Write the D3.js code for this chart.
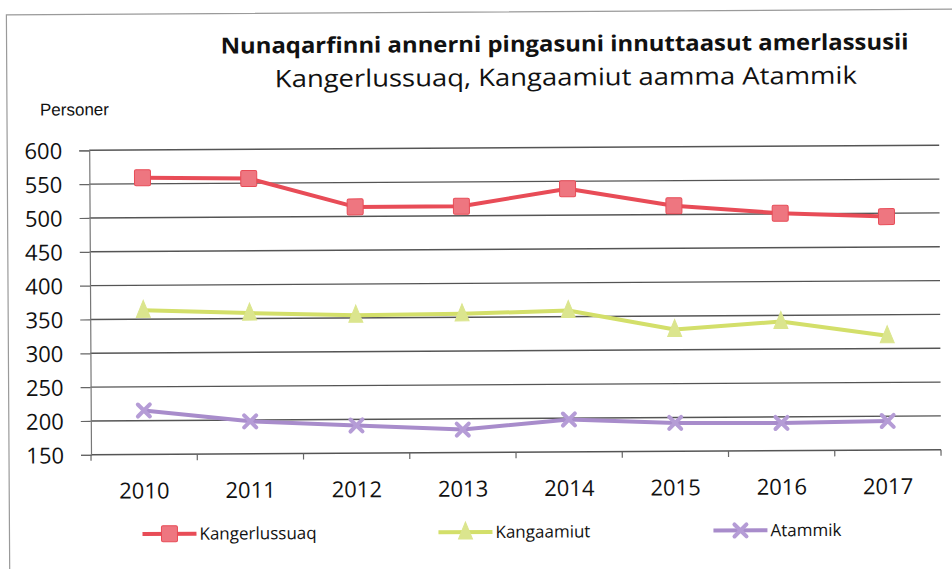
<!DOCTYPE html>
<html>
<head>
<meta charset="utf-8">
<script src="https://cdn.jsdelivr.net/npm/d3@7"></script>
<style>
  body { margin: 0; background: #fff; }
  svg { display: block; }
</style>
</head>
<body>
<svg id="chart" width="952" height="569"></svg>
<script>
// values
const years = ['2010', '2011', '2012', '2013', '2014', '2015', '2016', '2017']
const kangerlussuaq = [559, 557, 514, 514, 539, 513, 501, 495]
const kangaamiut = [363, 358, 354, 355, 359, 330, 341, 319]
const atammik = [215, 198, 191, 184, 198, 192, 191, 193]
const yTicks = [150, 200, 250, 300, 350, 400, 450, 500, 550, 600]

const seriesNames = ['Kangerlussuaq', 'Kangaamiut', 'Atammik']
const seriesValues = [kangerlussuaq, kangaamiut, atammik]
const lineColors = ['#e84c57', '#d3df6a', '#a88ccb']
const markerColors = ['#ee7680', '#dbe58e', '#b59cd6']
const markerShapes = ['square', 'triangle', 'cross']

const svg = d3.select('#chart')

// the scan is tilted a little, so everything sits in one rotated group
const g = svg.append('g')
  .attr('transform', 'rotate(-0.34, 476, 284)')

// frame of the chart
g.append('path')
  .attr('d', 'M8,600 L8,12 L960,12')
  .attr('fill', 'none')
  .attr('stroke', '#9a9a9a')
  .attr('stroke-width', 1.2)

g.append('text')
  .attr('x', 566).attr('y', 52)
  .attr('text-anchor', 'middle')
  .attr('font-family', 'Open Sans, sans-serif')
  .attr('font-weight', 'bold')
  .attr('font-size', 22)
  .attr('textLength', 688)
  .attr('lengthAdjust', 'spacingAndGlyphs')
  .attr('fill', '#111')
  .text('Nunaqarfinni annerni pingasuni innuttaasut amerlassusii')

g.append('text')
  .attr('x', 567).attr('y', 86)
  .attr('text-anchor', 'middle')
  .attr('font-family', 'Open Sans, sans-serif')
  .attr('font-size', 24)
  .attr('textLength', 582)
  .attr('lengthAdjust', 'spacingAndGlyphs')
  .attr('fill', '#111')
  .text('Kangerlussuaq, Kangaamiut aamma Atammik')

g.append('text')
  .attr('x', 41).attr('y', 113)
  .attr('font-family', 'Liberation Sans, Arial, sans-serif')
  .attr('font-size', 17)
  .attr('fill', '#111')
  .text('Personer')

const x = d3.scaleBand()
  .domain(years)
  .range([90, 940])

const y = d3.scaleLinear()
  .domain([150, 600])
  .range([452.5, 148])

const cx = d => x(d) + x.bandwidth() / 2

// gridlines
g.append('g')
  .selectAll('line')
  .data(yTicks)
  .join('line')
  .attr('x1', 90).attr('x2', 940)
  .attr('y1', d => y(d)).attr('y2', d => y(d))
  .attr('stroke', '#555')
  .attr('stroke-width', 1.4)

// y axis
const yAxis = g.append('g')
  .attr('transform', 'translate(90,0)')
  .call(d3.axisLeft(y).tickValues(yTicks).tickSize(10).tickPadding(6))
yAxis.select('.domain').attr('stroke', '#777').attr('stroke-width', 1.2)
yAxis.selectAll('.tick line').attr('stroke', '#666').attr('stroke-width', 1.2)
yAxis.selectAll('.tick text')
  .attr('font-family', 'Open Sans, sans-serif')
  .attr('font-size', 22)
  .attr('fill', '#111')
  .attr('dy', '0.36em')
  .attr('x', -27)

// x axis ticks at the category boundaries
const xAxis = g.append('g')
  .attr('transform', `translate(0,${y(150)})`)
xAxis.selectAll('line')
  .data(years.concat(['end']))
  .join('line')
  .attr('x1', (d, i) => i < years.length ? x(d) : x(years[years.length - 1]) + x.bandwidth())
  .attr('x2', (d, i) => i < years.length ? x(d) : x(years[years.length - 1]) + x.bandwidth())
  .attr('y1', 0).attr('y2', 6)
  .attr('stroke', '#666')
  .attr('stroke-width', 1.2)
xAxis.selectAll('text')
  .data(years)
  .join('text')
  .attr('x', d => cx(d))
  .attr('y', 44)
  .attr('text-anchor', 'middle')
  .attr('font-family', 'Open Sans, sans-serif')
  .attr('font-size', 22)
  .attr('fill', '#111')
  .text(d => d)

const drawMarker = (sel, shape, color, lineColor) => {
  if (shape === 'square') {
    sel.append('rect')
      .attr('x', -8).attr('y', -8)
      .attr('width', 16).attr('height', 16)
      .attr('rx', 1.5)
      .attr('fill', color)
      .attr('stroke', lineColor)
      .attr('stroke-width', 1)
  } else if (shape === 'triangle') {
    sel.append('path')
      .attr('d', 'M0,-10 L7,7 L-7,7 Z')
      .attr('fill', color)
      .attr('stroke', color)
      .attr('stroke-width', 1)
  } else {
    sel.append('path')
      .attr('d', 'M-6,-6 L6,6 M-6,6 L6,-6')
      .attr('stroke', color)
      .attr('stroke-width', 4)
      .attr('stroke-linecap', 'round')
  }
}

const line = d3.line()
  .x((d, i) => cx(years[i]))
  .y(d => y(d))

seriesValues.forEach((vals, s) => {
  const sg = g.append('g')
  sg.append('path')
    .datum(vals)
    .attr('d', line)
    .attr('fill', 'none')
    .attr('stroke', lineColors[s])
    .attr('stroke-width', 4)
    .attr('stroke-linejoin', 'round')
  sg.selectAll('g.marker')
    .data(vals)
    .join('g')
    .attr('class', 'marker')
    .attr('transform', (d, i) => `translate(${cx(years[i])},${y(d)})`)
    .each(function () {
      drawMarker(d3.select(this), markerShapes[s], markerColors[s], lineColors[s])
    })
})

// legend
const legendX = [141, 437, 712]
const legend = g.append('g')
seriesNames.forEach((name, s) => {
  const lg = legend.append('g')
    .attr('transform', `translate(${legendX[s]},532)`)
  lg.append('line')
    .attr('x1', 0).attr('x2', 54)
    .attr('stroke', lineColors[s])
    .attr('stroke-width', 4)
  const m = lg.append('g').attr('transform', 'translate(27,0)')
  drawMarker(m, markerShapes[s], markerColors[s], lineColors[s])
  lg.append('text')
    .attr('x', 57).attr('y', 6)
    .attr('font-family', 'Open Sans, sans-serif')
    .attr('font-size', 17)
    .attr('fill', '#111')
    .text(name)
})
</script>
</body>
</html>
